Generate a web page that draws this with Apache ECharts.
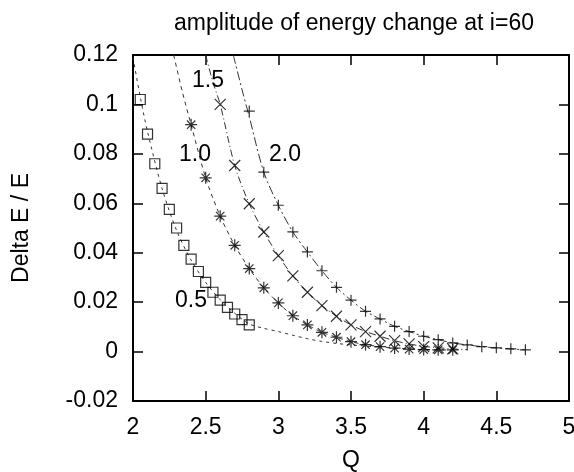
<!DOCTYPE html>
<html>
<head>
<meta charset="utf-8">
<script src="https://cdn.jsdelivr.net/npm/echarts@6/dist/echarts.min.js"></script>
<style>
  html, body { margin: 0; padding: 0; background: #fff; }
  #chart { width: 574px; height: 472px; }
</style>
</head>
<body>
<div id="chart"></div>
<script>
const sqQ = [2.05, 2.10, 2.15, 2.20, 2.25, 2.30, 2.35, 2.40, 2.45, 2.50, 2.55, 2.60, 2.65, 2.70, 2.75, 2.80];
const sqV = [0.102, 0.088, 0.076, 0.066, 0.0575, 0.050, 0.043, 0.0374, 0.0324, 0.028, 0.024, 0.0208, 0.0179, 0.0152, 0.0129, 0.0108];

const astQ = [2.4, 2.5, 2.6, 2.7, 2.8, 2.9, 3.0, 3.1, 3.2, 3.3, 3.4, 3.5, 3.6, 3.7, 3.8, 3.9, 4.0, 4.1, 4.2];
const astV = [0.0918, 0.0703, 0.0548, 0.0430, 0.0336, 0.0258, 0.0197, 0.0145, 0.0108, 0.0078, 0.0058, 0.0040, 0.0028, 0.0020, 0.0014, 0.0010, 0.0008, 0.0007, 0.0007];

const crossQ = [2.6, 2.7, 2.8, 2.9, 3.0, 3.1, 3.2, 3.3, 3.4, 3.5, 3.6, 3.7, 3.8, 3.9, 4.0, 4.1, 4.2];
const crossV = [0.1000, 0.0753, 0.0598, 0.0484, 0.0388, 0.0306, 0.0240, 0.0186, 0.0143, 0.0108, 0.0081, 0.0062, 0.0044, 0.0031, 0.0020, 0.0015, 0.0011];

const plusQ = [2.8, 2.9, 3.0, 3.1, 3.2, 3.3, 3.4, 3.5, 3.6, 3.7, 3.8, 3.9, 4.0, 4.1, 4.2, 4.3, 4.4, 4.5, 4.6, 4.7];
const plusV = [0.0973, 0.0726, 0.0592, 0.0484, 0.0403, 0.0327, 0.0260, 0.0208, 0.0163, 0.0132, 0.0102, 0.0081, 0.0062, 0.0048, 0.0035, 0.0027, 0.0020, 0.0015, 0.0011, 0.0007];

// fitted curves, points
const fit05Q = [2.0, 2.05, 2.1, 2.2, 2.3, 2.4, 2.5, 2.6, 2.7, 2.8, 2.9, 3.0, 3.1, 3.2, 3.3, 3.4, 3.5, 3.7];
const fit05V = [0.119, 0.103, 0.089, 0.066, 0.049, 0.037, 0.028, 0.021, 0.0155, 0.0112, 0.0094, 0.0081, 0.0066, 0.0052, 0.0041, 0.0033, 0.0027, 0.0018];

const fit10Q = [2.28, 2.34, 2.4, 2.5, 2.6, 2.7, 2.8, 2.9, 3.0, 3.1, 3.2, 3.3, 3.4, 3.5, 3.6, 3.7, 3.8, 3.9, 4.0, 4.2];
const fit10V = [0.12, 0.105, 0.0918, 0.0703, 0.0548, 0.0430, 0.0336, 0.0258, 0.0197, 0.0145, 0.0108, 0.0078, 0.0058, 0.0040, 0.0028, 0.0020, 0.0014, 0.0010, 0.0008, 0.0006];

const fit15Q = [2.5, 2.55, 2.6, 2.7, 2.8, 2.9, 3.0, 3.1, 3.2, 3.3, 3.4, 3.5, 3.6, 3.7, 3.8, 3.9, 4.0, 4.2, 4.3];
const fit15V = [0.12, 0.109, 0.100, 0.0753, 0.0598, 0.0484, 0.0388, 0.0306, 0.0240, 0.0186, 0.0143, 0.0108, 0.0081, 0.0062, 0.0044, 0.0031, 0.0021, 0.0011, 0.0008];

const fit20Q = [2.69, 2.75, 2.8, 2.9, 3.0, 3.1, 3.2, 3.3, 3.4, 3.5, 3.6, 3.7, 3.8, 3.9, 4.0, 4.1, 4.2, 4.3, 4.4, 4.5, 4.6, 4.7];
const fit20V = [0.12, 0.106, 0.095, 0.0726, 0.0592, 0.0484, 0.0403, 0.0327, 0.0260, 0.0208, 0.0163, 0.0132, 0.0102, 0.0081, 0.0062, 0.0048, 0.0035, 0.0027, 0.0020, 0.0015, 0.0011, 0.0007];

const curveNames = ['0.5', '1.0', '1.5', '2.0'];
const xTicks = [2, 2.5, 3, 3.5, 4, 4.5, 5];
const yTicks = [-0.02, 0, 0.02, 0.04, 0.06, 0.08, 0.1, 0.12];

const pairs = (qs, vs) => qs.map((q, i) => [q, vs[i]]);

const FONT = '"Liberation Sans", Arial, Helvetica, sans-serif';
const FS = 23;
const INK = '#000';
const LINE = '#333';

const chart = echarts.init(document.getElementById('chart'), null, { renderer: 'canvas' });

const axisCommon = {
    axisLine: { show: true, onZero: false, lineStyle: { color: INK, width: 2 } },
    axisTick: { show: true, inside: true, length: 10, lineStyle: { color: INK, width: 1.5 } },
    splitLine: { show: false }
};

const fitLine = (q, v, dash) => ({
    type: 'line',
    data: pairs(q, v),
    smooth: 0.3,
    symbol: 'none',
    silent: true,
    lineStyle: { color: LINE, width: 1, type: dash },
    z: 1
});

const markers = (q, v, symbol, size) => ({
    type: 'scatter',
    data: pairs(q, v),
    symbol: symbol,
    symbolSize: size,
    itemStyle: { color: 'transparent', borderColor: '#000', borderWidth: 1.2 },
    z: 3
});

const ASTERISK = 'path://M0,5L10,5M5,0L5,10M1.5,1.5L8.5,8.5M1.5,8.5L8.5,1.5';
const CROSS = 'path://M0,0L10,10M0,10L10,0';
const PLUS = 'path://M0,5L10,5M5,0L5,10';

const labelPos = [[191, 301], [195, 155], [208, 81], [285, 155]];

chart.setOption({
    animation: false,
    backgroundColor: '#fff',
    textStyle: { fontFamily: FONT },
    title: {
        text: 'amplitude of energy change at i=60',
        left: 349,
        top: 7,
        textAlign: 'center',
        textStyle: { fontFamily: FONT, fontSize: FS, fontWeight: 'normal', color: INK }
    },
    grid: { left: 133, right: 5, top: 55, bottom: 71, containLabel: false, outerBoundsMode: 'none' },
    xAxis: [
        Object.assign({}, axisCommon, {
            type: 'value', min: 2, max: 5, interval: 0.5, position: 'bottom',
            name: 'Q', nameLocation: 'middle', nameGap: 48,
            nameTextStyle: { fontFamily: FONT, fontSize: FS, color: INK },
            axisLabel: {
                margin: 15, fontFamily: FONT, fontSize: FS, color: INK,
                formatter: v => xTicks.includes(+v.toFixed(2)) ? String(+v.toFixed(2)) : ''
            }
        }),
        Object.assign({}, axisCommon, {
            type: 'value', min: 2, max: 5, interval: 0.5, position: 'top',
            axisLabel: { show: false }
        })
    ],
    yAxis: [
        Object.assign({}, axisCommon, {
            type: 'value', min: -0.02, max: 0.12, interval: 0.02, position: 'left',
            name: 'Delta E / E', nameLocation: 'middle', nameGap: 100, nameRotate: 90,
            nameTextStyle: { fontFamily: FONT, fontSize: FS, color: INK },
            axisLabel: {
                margin: 15, fontFamily: FONT, fontSize: FS, color: INK,
                formatter: v => yTicks.includes(+v.toFixed(2)) ? String(+v.toFixed(2)) : ''
            }
        }),
        Object.assign({}, axisCommon, {
            type: 'value', min: -0.02, max: 0.12, interval: 0.02, position: 'right',
            axisLabel: { show: false }
        })
    ],
    series: [
        fitLine(fit05Q, fit05V, [3, 4]),
        fitLine(fit10Q, fit10V, [4, 4]),
        fitLine(fit15Q, fit15V, [7, 3, 1, 3]),
        fitLine(fit20Q, fit20V, [9, 3, 2, 3]),
        markers(sqQ, sqV, 'rect', 10),
        markers(astQ, astV, ASTERISK, 12),
        markers(crossQ, crossV, CROSS, 11),
        markers(plusQ, plusV, PLUS, 11)
    ],
    graphic: curveNames.map((t, i) => ({
        type: 'text',
        x: labelPos[i][0],
        y: labelPos[i][1],
        z: 10,
        style: {
            text: t,
            font: FS + 'px ' + FONT,
            fill: INK,
            align: 'center',
            verticalAlign: 'middle'
        }
    }))
});
</script>
</body>
</html>
